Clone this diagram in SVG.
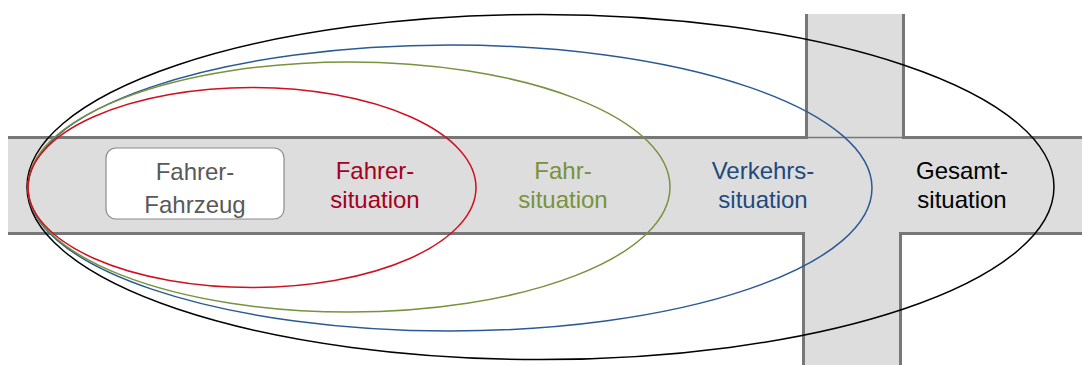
<svg xmlns="http://www.w3.org/2000/svg" width="1082" height="365" viewBox="0 0 1082 365">
  <style>
    .road { fill: #dddddd; stroke: none; }
    .kerb { stroke: #777777; stroke-width: 3; fill: none; }
    .seam { stroke: #777777; stroke-width: 1.5; fill: none; }
    .ring { fill: none; stroke-width: 1.5; }
    .lbl { font-family: "Liberation Sans", Arial, sans-serif; font-size: 24px; text-anchor: middle; }
  </style>

  <!-- crossroads background -->
  <g id="road">
    <rect class="road" x="8" y="137" width="1074" height="97"/>
    <rect class="road" x="806" y="14" width="98" height="124"/>
    <rect class="road" x="803" y="233" width="98" height="132"/>
    <path class="kerb" d="M8 137.5 H806 M904 137.5 H1082 M806.5 14 V139 M903.5 14 V139"/>
    <path class="seam" d="M806 137.5 H904"/>
    <path class="kerb" d="M8 233.5 H803 M901 233.5 H1082 M803.5 232 V365 M900.5 232 V365"/>
  </g>

  <!-- nested situation scopes -->
  <g id="scopes">
    <ellipse id="gesamt-ring" class="ring" cx="540.5" cy="187" rx="513.5" ry="172.5" stroke="#000000"/>
    <ellipse id="verkehr-ring" class="ring" cx="450" cy="188" rx="422" ry="143" stroke="#2a5a94"/>
    <ellipse id="fahr-ring" class="ring" cx="349" cy="187" rx="321" ry="125" stroke="#77933c"/>
    <ellipse id="fahrer-ring" class="ring" cx="252" cy="187.5" rx="224" ry="100" stroke="#d01020"/>
  </g>

  <g id="fahrer-fahrzeug">
    <rect x="106" y="148" width="178" height="71" rx="10" fill="#ffffff" stroke="#8c8c8c" stroke-width="1.2"/>
    <text class="lbl" x="195" y="180" fill="#595959">Fahrer-</text>
    <text class="lbl" x="195" y="213" fill="#595959">Fahrzeug</text>
  </g>
  <g id="fahrersituation">
    <text class="lbl" x="375" y="179" fill="#a50021">Fahrer-</text>
    <text class="lbl" x="375" y="208" fill="#a50021">situation</text>
  </g>
  <g id="fahrsituation">
    <text class="lbl" x="563" y="179" fill="#77933c">Fahr-</text>
    <text class="lbl" x="563" y="208" fill="#77933c">situation</text>
  </g>
  <g id="verkehrssituation">
    <text class="lbl" x="763" y="179" fill="#1f497d">Verkehrs-</text>
    <text class="lbl" x="763" y="208" fill="#1f497d">situation</text>
  </g>
  <g id="gesamtsituation">
    <text class="lbl" x="962" y="179" fill="#000000">Gesamt-</text>
    <text class="lbl" x="962" y="208" fill="#000000">situation</text>
  </g>
</svg>
